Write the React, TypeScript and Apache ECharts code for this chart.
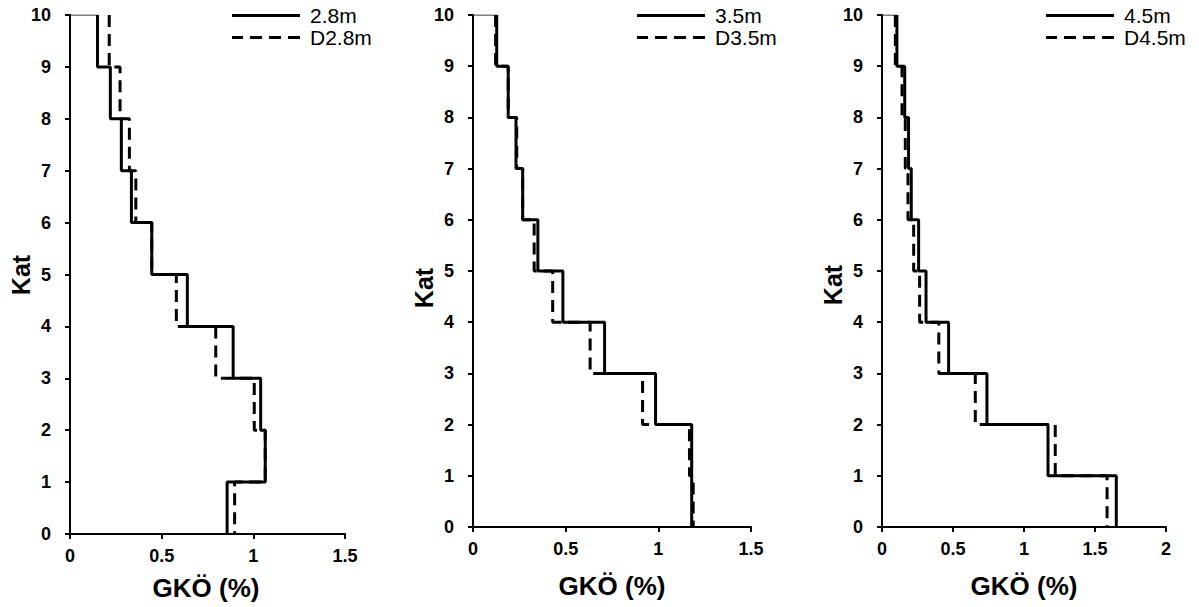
import React, { useEffect, useRef } from "react";
import * as echarts from "echarts";

// Story drift values, stories 1..10 (bottom to top)
const stories = [1, 2, 3, 4, 5, 6, 7, 8, 9, 10];
const s28 = [0.857, 1.065, 1.04, 0.89, 0.64, 0.446, 0.335, 0.28, 0.22, 0.15];
const d28 = [0.898, 1.065, 1.005, 0.795, 0.58, 0.446, 0.359, 0.324, 0.273, 0.214];
const s35 = [1.18, 1.18, 0.985, 0.71, 0.485, 0.35, 0.268, 0.232, 0.19, 0.128];
const d35 = [1.188, 1.168, 0.915, 0.632, 0.43, 0.33, 0.268, 0.236, 0.19, 0.122];
const s45 = [1.65, 1.169, 0.739, 0.469, 0.31, 0.258, 0.206, 0.187, 0.16, 0.105];
const d45 = [1.585, 1.22, 0.657, 0.4, 0.265, 0.223, 0.183, 0.164, 0.141, 0.094];

const names = [
  ["2.8m", "D2.8m"],
  ["3.5m", "D3.5m"],
  ["4.5m", "D4.5m"],
];
const xMax = [1.5, 1.5, 2];
const yName = "Kat";
const xName = "GKÖ (%)";

const FONT = "'Liberation Sans', Arial, sans-serif";
const SOLID_ICON = "path://M0,0 H68 V3 H0 Z";
const DASH_ICON =
  "path://M0,0 H11 V3 H0 Z M18,0 H30 V3 H18 Z M37,0 H49 V3 H37 Z M56,0 H68 V3 H56 Z";

function stepPoints(vals: number[]) {
  const pts: number[][] = [];
  for (let i = stories.length - 1; i >= 0; i--) {
    pts.push([vals[i], stories[i]]);
    pts.push([vals[i], stories[i] - 1]);
  }
  return pts;
}

export default function App() {
  const ref = useRef<HTMLDivElement>(null);
  useEffect(() => {
    if (!ref.current) return;
    const chart = echarts.init(ref.current, null, { renderer: "svg" });
    const grids = [
      { left: 70, top: 15, width: 275, height: 519 },
      { left: 473, top: 15, width: 278, height: 512 },
      { left: 882, top: 15, width: 284, height: 512 },
    ];
    const solids = [s28, s35, s45];
    const dashed = [d28, d35, d45];
    const legendLeft = [232, 637, 1046];
    const kat = [
      [21, 275],
      [424, 288],
      [833, 285],
    ];
    const gko = [
      [206, 588],
      [612, 586],
      [1024, 586],
    ];

    const axisCommon = {
      axisLine: { show: true, lineStyle: { color: "#000", width: 2 } },
      axisTick: { show: true, inside: false, length: 5, lineStyle: { color: "#000", width: 2 } },
      splitLine: { show: false },
      axisLabel: {
        color: "#000",
        fontFamily: FONT,
        fontWeight: "bold" as const,
        fontSize: 18,
      },
    };

    const xAxis = grids.map((_, i) => ({
      type: "value",
      gridIndex: i,
      min: 0,
      max: xMax[i],
      interval: 0.5,
      ...axisCommon,
      axisLabel: { ...axisCommon.axisLabel, margin: 13 },
    }));
    const yAxis = grids.map((_, i) => ({
      type: "value",
      gridIndex: i,
      min: 0,
      max: 10,
      interval: 1,
      ...axisCommon,
      axisLabel: { ...axisCommon.axisLabel, margin: 19 },
    }));

    const series: any[] = [];
    grids.forEach((_, i) => {
      series.push({
        type: "line",
        name: names[i][0],
        xAxisIndex: i,
        yAxisIndex: i,
        data: stepPoints(solids[i]),
        symbol: "none",
        lineStyle: { color: "#000", width: 3, type: "solid" },
        itemStyle: { color: "#000" },
        z: 3,
      });
      series.push({
        type: "line",
        name: names[i][1],
        xAxisIndex: i,
        yAxisIndex: i,
        data: stepPoints(dashed[i]),
        symbol: "none",
        lineStyle: { color: "#000", width: 3, type: [12, 7] },
        itemStyle: { color: "#000" },
        z: 2,
      });
      series.push({
        type: "line",
        name: "top" + i,
        xAxisIndex: i,
        yAxisIndex: i,
        data: [
          [0, 10],
          [solids[i][9], 10],
        ],
        symbol: "none",
        lineStyle: { color: "#000", width: 1.2 },
        z: 1,
      });
    });

    const legend = grids.map((_, i) => ({
      data: [
        { name: names[i][0], icon: SOLID_ICON },
        { name: names[i][1], icon: DASH_ICON },
      ],
      orient: "vertical",
      left: legendLeft[i],
      top: 5,
      padding: 0,
      itemWidth: 68,
      itemHeight: 3,
      itemGap: 1,
      itemStyle: { color: "#000", borderWidth: 0 },
      lineStyle: { width: 0 },
      textStyle: {
        color: "#000",
        fontSize: 21,
        lineHeight: 21,
        fontFamily: FONT,
        padding: [0, 0, 0, 5],
      },
      selectedMode: false,
    }));

    const graphic: any[] = [];
    grids.forEach((_, i) => {
      graphic.push({
        type: "text",
        x: kat[i][0],
        y: kat[i][1],
        rotation: Math.PI / 2,
        style: {
          text: yName,
          fill: "#000",
          font: `bold 25px ${FONT}`,
          textAlign: "center",
          textVerticalAlign: "middle",
        },
      });
      graphic.push({
        type: "text",
        x: gko[i][0],
        y: gko[i][1],
        style: {
          text: xName,
          fill: "#000",
          font: `bold 26px ${FONT}`,
          textAlign: "center",
          textVerticalAlign: "middle",
        },
      });
    });

    chart.setOption({
      animation: false,
      backgroundColor: "#fff",
      grid: grids,
      xAxis,
      yAxis,
      series,
      legend,
      graphic,
    });
    return () => chart.dispose();
  }, []);
  return (
    <div
      ref={ref}
      style={{ position: "fixed", left: 0, top: 0, width: 1199, height: 607 }}
    />
  );
}
